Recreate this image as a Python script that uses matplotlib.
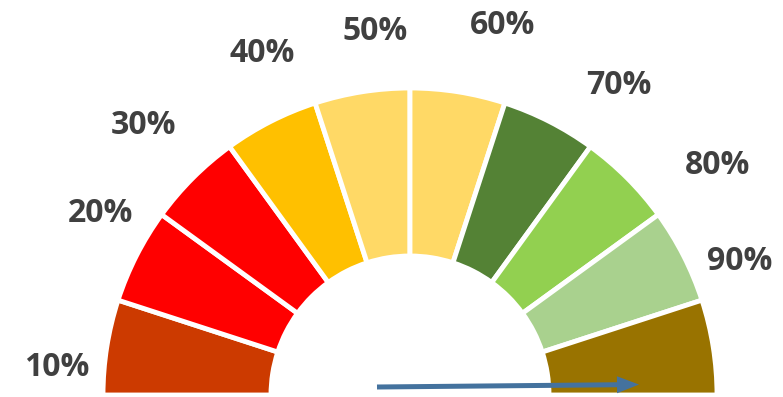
import numpy as np
import matplotlib.pyplot as plt
from matplotlib.patches import Wedge, FancyArrow

# gauge data
segments = [10, 10, 10, 10, 10, 10, 10, 10, 10, 10]
colors = ['#CC3A00', '#FF0000', '#FF0000', '#FFC000', '#FFD966',
          '#FFD966', '#548235', '#92D050', '#A9D18E', '#997300']
labels = ['10%', '20%', '30%', '40%', '50%', '60%', '70%', '80%', '90%']
pointer_value = 0.997

# label placement (data units, gauge centre at 0,0)
label_pos = [(-353, 27), (-310, 182), (-267, 270), (-148, 342), (-35, 364),
             (93, 370), (209, 309), (308, 229), (330, 133)]

R_OUT, R_IN = 307, 139

fig = plt.figure(figsize=(7.83, 3.97), dpi=100)
ax = fig.add_axes([0, 0, 1, 1])
ax.set_xlim(-410, 373)
ax.set_ylim(-2, 395)
ax.axis('off')

total = sum(segments)
start = 180.0
for val, c in zip(segments, colors):
    span = 180.0 * val / total
    w = Wedge((0, 0), R_OUT, start - span, start, width=R_OUT - R_IN,
              facecolor=c, edgecolor='white', linewidth=3.5)
    ax.add_patch(w)
    start -= span

for txt, (x, y) in zip(labels, label_pos):
    ax.text(x, y, txt, ha='center', va='center', fontsize=23,
            fontweight='bold', family='Open Sans', color='#404040')

# needle
ang = np.deg2rad(180.0 * (1 - pointer_value))
x0, y0, length = -33, 8, 262
ax.add_patch(FancyArrow(x0, y0, length * np.cos(ang), length * np.sin(ang),
                        width=5, head_width=17, head_length=22,
                        length_includes_head=True, color='#44729E', lw=0))

fig.savefig('out.png', dpi=100)
